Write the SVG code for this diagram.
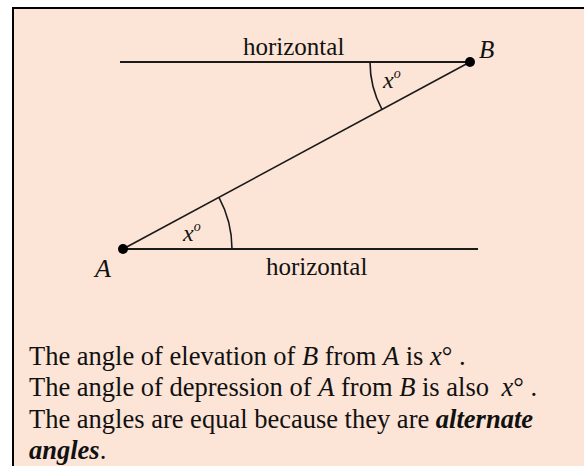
<svg xmlns="http://www.w3.org/2000/svg" width="584" height="466" viewBox="0 0 584 466">
  <style>
    .ln { stroke: #1a1a1a; fill: none; }
    .t { font-family: "Liberation Serif", "Times New Roman", serif; fill: #111; }
    .it { font-style: italic; }
    .bi { font-style: italic; font-weight: bold; }
    .para { font-size: 26.5px; }
  </style>
  <rect x="0" y="0" width="584" height="466" fill="#ffffff"/>
  <rect id="frame" x="13" y="8" width="620" height="520" fill="#fce4d6" stroke="#000" stroke-width="2"/>

  <g id="connectors">
    <line class="ln" x1="120" y1="62" x2="470" y2="62" stroke-width="2"/>
    <line class="ln" x1="123" y1="249" x2="478" y2="249" stroke-width="2"/>
    <line class="ln" x1="123" y1="249" x2="470" y2="62" stroke-width="1.6"/>
    <path class="ln" d="M232,249 A109,109 0 0 0 218.95,197.3" stroke-width="1.6"/>
    <path class="ln" d="M370,62 A100,100 0 0 0 381.97,109.44" stroke-width="1.6"/>
  </g>

  <g id="pointA">
    <circle cx="123" cy="249" r="5" fill="#000"/>
    <text class="t it" x="95" y="277" font-size="26">A</text>
  </g>
  <g id="pointB">
    <circle cx="470" cy="62" r="5" fill="#000"/>
    <text class="t it" x="479" y="58" font-size="25">B</text>
  </g>

  <g id="label-horizontal-top">
    <text class="t" x="243" y="55" font-size="25">horizontal</text>
  </g>
  <g id="label-horizontal-bottom">
    <text class="t" x="266" y="275" font-size="25">horizontal</text>
  </g>

  <g id="angle-B">
    <text class="t it" x="383" y="88" font-size="24">x<tspan font-size="14" dy="-10">o</tspan></text>
  </g>
  <g id="angle-A">
    <text class="t it" x="183" y="241" font-size="24">x<tspan font-size="14" dy="-10">o</tspan></text>
  </g>

  <g id="caption">
    <text class="t para" x="29" y="365">The angle of elevation of <tspan class="it">B</tspan> from <tspan class="it">A</tspan> is <tspan class="it">x</tspan>° .</text>
    <text class="t para" x="29" y="396">The angle of depression of <tspan class="it">A</tspan> from <tspan class="it">B</tspan> is also <tspan class="it" dx="6">x</tspan>° .</text>
    <text class="t para" x="29" y="428">The angles are equal because they are <tspan class="bi">alternate</tspan></text>
    <text class="t para" x="29" y="459"><tspan class="bi">angles</tspan>.</text>
  </g>
</svg>
